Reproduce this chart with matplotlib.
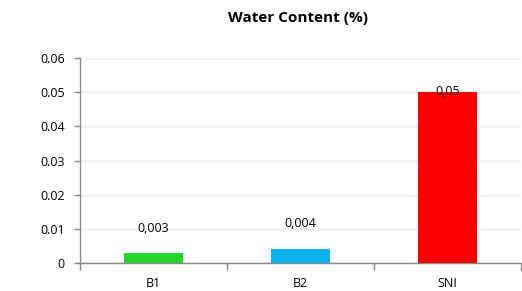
import matplotlib
matplotlib.use("Agg")
import matplotlib.pyplot as plt
import numpy as np

categories = ["B1", "B2", "SNI"]
values = [0.003, 0.004, 0.05]
labels = ["0,003", "0,004", "0,05"]
colors = ["#22D62B", "#00B0F0", "#FF0000"]
label_offsets_pt = [17.3, 18.7, 0.7]
yticks = [0, 0.01, 0.02, 0.03, 0.04, 0.05, 0.06]
ytick_labels = ["0", "0.01", "0.02", "0.03", "0.04", "0.05", "0.06"]

plt.rcParams['font.family'] = ['Open Sans', 'DejaVu Sans']

fig = plt.figure(figsize=(5.22, 2.91), dpi=100)
ax = fig.add_axes([80/522, 1-263/291, 441/522, (263-58)/291])

x = np.arange(len(categories))
ax.bar(x, values, width=0.4, color=colors, zorder=3)
for xi, v, lab, off in zip(x, values, labels, label_offsets_pt):
    ax.annotate(lab, (xi, v), xytext=(0, off), textcoords="offset points",
                ha="center", va="center", fontsize=9, color="#000000", zorder=4)

ax.set_xlim(-0.5, len(categories) - 0.5)
ax.set_ylim(0, 0.06)
ax.set_yticks(yticks)
ax.set_yticklabels(ytick_labels, fontsize=9)
ax.set_xticks(x)
ax.set_xticklabels(categories, fontsize=9)
ax.set_xticks(np.arange(len(categories) + 1) - 0.5, minor=True)
ax.tick_params(axis="x", which="major", length=0, pad=10)
ax.tick_params(axis="x", which="minor", length=5, color="#898989", width=1)
ax.tick_params(axis="y", length=4, color="#898989", width=1, pad=7)

ax.grid(axis="y", color="#F2F2F2", linewidth=1.8, zorder=0)
for s in ["top", "right"]:
    ax.spines[s].set_visible(False)
for s in ["left", "bottom"]:
    ax.spines[s].set_color("#898989")
    ax.spines[s].set_linewidth(1)
ax.set_axisbelow(True)

fig.text(298/522, 1-18/291, "Water Content (%)", ha="center", va="center",
         fontsize=11, fontweight="bold")

fig.savefig("out.png", dpi=100)
